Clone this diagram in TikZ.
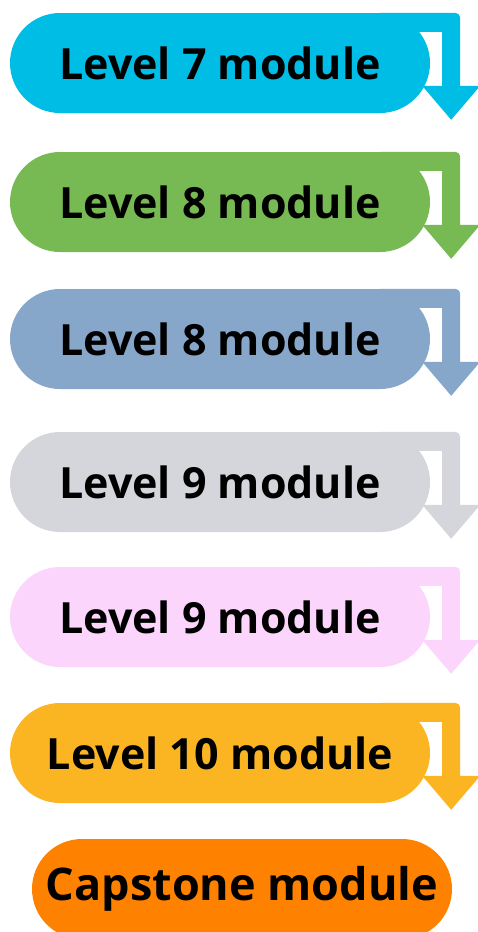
\documentclass[tikz,border=0pt]{standalone}
\usepackage{fontspec}
\setmainfont{Open Sans}
\usepackage{tikz}

\definecolor{cyanmod}{RGB}{0,189,229}
\definecolor{greenmod}{RGB}{119,185,83}
\definecolor{bluemod}{RGB}{135,167,202}
\definecolor{greymod}{RGB}{213,214,219}
\definecolor{pinkmod}{RGB}{252,213,252}
\definecolor{goldmod}{RGB}{251,181,34}
\definecolor{orangemod}{RGB}{255,129,0}

\tikzstyle{module} = [rectangle, rounded corners=50pt, minimum width=420pt, minimum height=100pt, inner sep=0pt, text centered, text=black, font=\bfseries\fontsize{43}{50}\selectfont]

% bent arrow leaving the right end of a module
\newcommand{\turnarrow}[2]{%
  \fill[#2, shift={(#1.north east)}] (-50,0) -- (25,0) arc[start angle=90, end angle=0, radius=5] -- (30,-73) -- (50,-73) -- (21,-107) -- (-8,-73) -- (12,-73) -- (12,-19) -- (-50,-19) -- cycle;
}

\begin{document}
\begin{tikzpicture}[x=1pt, y=1pt, node distance=137pt]
\useasboundingbox (0,0) rectangle (478,-932);

\node (lvl7) [module, fill=cyanmod] at (220,-63) {Level 7 module};
\node (lvl8a) [module, fill=greenmod, below of=lvl7, yshift=-2pt] {Level 8 module};
\node (lvl8b) [module, fill=bluemod, below of=lvl8a] {Level 8 module};
\node (lvl9a) [module, fill=greymod, below of=lvl8b, yshift=-6pt] {Level 9 module};
\node (lvl9b) [module, fill=pinkmod, below of=lvl9a, yshift=2pt] {Level 9 module};
\node (lvl10) [module, fill=goldmod, below of=lvl9b, yshift=1pt] {Level 10 module};
\node (cap) [module, fill=orangemod, below of=lvl10, xshift=22pt, yshift=1pt, font=\bfseries\fontsize{45}{52}\selectfont] {Capstone module};

\begin{scope}[on background layer/.try]
\turnarrow{lvl7}{cyanmod}
\turnarrow{lvl8a}{greenmod}
\turnarrow{lvl8b}{bluemod}
\turnarrow{lvl9a}{greymod}
\turnarrow{lvl9b}{pinkmod}
\turnarrow{lvl10}{goldmod}
\end{scope}

\end{tikzpicture}
\end{document}
